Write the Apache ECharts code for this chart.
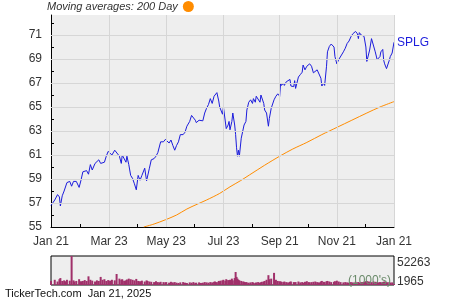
<!DOCTYPE html>
<html><head><meta charset="utf-8">
<script src="https://cdn.jsdelivr.net/npm/echarts@6/dist/echarts.min.js"></script>
<style>html,body{margin:0;padding:0;background:#fff}#c{width:450px;height:300px}</style>
</head><body><div id="c"></div>
<script>
// days since Jan 21, 2024
const priceDays = [0,4,7,9,10,12,14,15,17,20,22,24,25,27,30,32,34,36,38,40,42,44,47,49,51,53,55,57,59,61,63,65,68,70,73,75,76,78,80,81,83,85,87,89,91,93,95,97,100,102,103,105,107,110,112,114,116,117,120,122,123,126,128,130,132,134,136,138,141,143,145,148,150,152,154,155,158,160,162,164,166,168,170,172,174,175,177,179,180,181,183,184,186,187,189,190,191,193,194,196,197,198,199,200,201,203,205,206,208,209,211,213,215,216,218,219,221,223,224,225,227,228,230,232,233,235,238,240,242,244,245,246,248,249,251,253,255,256,259,260,261,264,266,268,269,271,273,275,276,278,280,282,284,286,288,289,291,292,294,295,297,299,302,303,305,307,309,312,314,316,318,320,322,324,325,327,328,329,331,332,334,336,337,339,340,342,344,346,348,349,351,352,354,355,356,358,359,361,362,364,366];
const prices = [56.8,57.25,57.7,57.5,56.75,57.6,58.0,57.9,58.7,58.8,58.4,58.8,58.9,58.8,58.3,58.9,59.6,59.5,59.7,59.4,60.2,59.75,60.3,60.2,60.6,60.3,60.2,60.4,60.9,61.3,61.2,61.0,61.4,61.3,60.9,60.3,61.0,60.9,60.4,60.9,60.2,59.3,59.05,58.6,58.1,59.3,58.9,59.3,59.9,58.85,58.7,59.9,60.6,60.7,60.9,61.2,61.3,62.1,62.1,62.3,62.4,62.0,62.25,61.8,61.4,61.8,62.1,62.7,62.7,62.9,63.4,63.8,64.3,64.2,63.9,63.7,63.9,64.05,63.85,64.5,64.9,65.2,65.7,65.3,65.9,66.0,66.2,65.5,65.0,64.9,64.4,65.0,64.9,63.2,63.5,63.8,63.1,63.8,64.5,63.5,62.7,61.6,60.9,61.4,60.9,62.4,62.5,63.5,63.8,64.75,65.4,65.6,65.3,65.7,65.4,65.9,65.8,65.4,66.0,66.0,65.3,64.75,64.5,63.4,64.05,64.9,65.6,65.9,66.1,65.9,67.0,66.8,67.0,66.8,67.1,67.0,67.3,66.75,66.7,67.2,66.55,67.5,67.7,67.9,68.5,68.1,68.4,68.5,68.6,68.4,67.85,67.9,68.1,68.2,67.4,66.75,67.0,66.8,68.4,69.6,70.05,70.25,70.0,69.2,68.6,68.95,69.05,69.6,69.9,70.3,70.5,70.85,71.1,71.0,71.3,71.1,70.7,71.2,71.0,71.1,70.9,70.0,68.8,68.8,69.75,70.7,70.7,69.6,68.95,68.8,69.2,69.6,69.8,68.9,68.6,68.2,68.1,68.9,69.2,69.5,70.4];
const volumes = [9000,11000,8000,12000,14000,9000,10000,8500,11000,9500,
52263,10000,8000,9000,12000,8500,9000,10500,9000,17000,
11000,9500,8000,10000,9000,16000,11000,12000,9000,10500,
9500,11000,10000,21000,13000,11000,12000,9500,10000,11500,
13000,12000,11000,10000,12500,9000,8500,9500,8000,10000,
9000,8000,7500,7000,8500,7000,6500,7500,7000,6500,
7000,6000,7500,6500,7000,6000,5500,6500,7000,6000,
5500,6500,6000,7000,5500,6000,6500,5500,6000,7000,
6500,6000,7000,6500,7500,8000,7000,9000,8000,9500,
10000,11000,9000,12000,10500,9000,11000,13000,10000,14000,
24500,16000,13000,11000,10000,9000,8000,7500,7000,6500,
6000,6500,7000,6000,5500,6500,7000,6000,6500,7500,
8000,9000,11000,19000,12000,13000,23000,11000,9000,8500,
8000,7500,7000,8000,7000,6500,7500,8000,7000,6500,
7000,8000,6500,7000,6000,7500,8500,7000,6500,7000,
7500,8000,7000,6500,8000,9000,7500,7000,8500,9000,
8000,7000,7500,8500,9500,8000,7000,6500,7000,6500,
6000,7000,6500,6000,7500,6500,7000,6000,6500,7000,
7500,8500,9000,8000,7500,7000,8000,7500,7000,6500,
7000,6500,7000,7500,8000,7000,6500,7000,6000,6500,3500];
const maDays = [99,110,122,134,145,156,166,180,191,202,212,228,244,258,273,289,305,321,337,351,366];
const maValues = [55.0,55.25,55.6,56.0,56.5,56.9,57.25,57.8,58.35,58.85,59.35,60.15,60.9,61.5,62.05,62.7,63.3,63.9,64.5,65.0,65.45];
const xTickDays = [0,31,62,92,123,153,184,215,244,274,305,335,366];
const xLabelDays = [0,62,123,184,244,305,366];
const xLabels = ['Jan 21','Mar 23','May 23','Jul 23','Sep 21','Nov 21','Jan 21'];
const yTicks = [55,56,57,58,59,60,61,62,63,64,65,66,67,68,69,70,71,72];
const yLabels = [55,57,59,61,63,65,67,69,71];
const volTickLabels = ['52263','1965'];
const volMin = 1965, volMax = 52263;

const zip = (a,b) => a.map((v,i)=>[v,b[i]]);
const txt = '#333';
const font = 'Liberation Sans, Arial, sans-serif';

const chart = echarts.init(document.getElementById('c'), null, {renderer:'canvas'});
chart.setOption({
  animation: false,
  textStyle: {fontFamily: font},
  legend: {
    data: ['Moving averages: 200 Day'], left: 47, top: 1, icon: 'circle', align: 'right',
    itemWidth: 11, itemHeight: 11, padding: 0,
    textStyle: {fontStyle: 'italic', fontSize: 11, color: txt, fontFamily: font}
  },
  grid: [
    {left: 51, top: 15, width: 343, height: 212, show: true, backgroundColor: '#eeeeee', borderWidth: 0},
    {left: 51, top: 256, width: 343, height: 29, show: true, backgroundColor: '#eeeeee', borderColor: '#000', borderWidth: 1}
  ],
  xAxis: [
    {type: 'value', gridIndex: 0, min: 0, max: 366,
     axisLine: {show: true, lineStyle: {color: '#000', width: 1}},
     axisTick: {show: true, inside: true, length: 3, customValues: xTickDays, lineStyle: {color: '#000'}},
     axisLabel: {customValues: xLabelDays, fontSize: 12, color: txt, margin: 9,
       formatter: v => { const i = xLabelDays.indexOf(Math.round(v)); return i >= 0 ? xLabels[i] : ''; }},
     splitLine: {show: false}},
    {type: 'value', gridIndex: 1, min: 0, max: 366, show: false, splitLine: {show: false}}
  ],
  yAxis: [
    {type: 'value', gridIndex: 0, min: 55, max: 72.67,
     axisLine: {show: true, lineStyle: {color: '#000', width: 1}},
     axisTick: {show: true, inside: true, length: 3, customValues: yTicks, lineStyle: {color: '#000'}},
     axisLabel: {customValues: yLabels, fontSize: 12, color: txt, margin: 9},
     splitLine: {show: false}},
    {type: 'value', gridIndex: 1, min: volMin, max: volMax, show: false, splitLine: {show: false}}
  ],
  series: [
    {type: 'line', name: 'grid', xAxisIndex: 0, yAxisIndex: 0, data: [], z: 1, silent: true,
     markLine: {silent: true, symbol: ['none','none'], label: {show: false}, animation: false,
       lineStyle: {color: '#d6d6d6', type: 'solid', width: 1},
       data: xLabelDays.slice(1).map(d => ({xAxis: d})).concat(yLabels.slice(1).map(v => ({yAxis: v})))}},
    {type: 'line', name: 'Moving averages: 200 Day', xAxisIndex: 0, yAxisIndex: 0, data: zip(maDays, maValues),
     showSymbol: false, smooth: 0.3, z: 2, color: '#ff8c00', lineStyle: {color: '#ff8c00', width: 1}},
    {type: 'line', name: 'SPLG', xAxisIndex: 0, yAxisIndex: 0, data: zip(priceDays, prices),
     showSymbol: false, z: 3, color: '#1c1cdc', lineStyle: {color: '#1c1cdc', width: 1},
     endLabel: {show: true, formatter: 'SPLG', color: '#1c1cdc', fontSize: 12, distance: 3, fontFamily: font}},
    {type: 'bar', name: 'vol', xAxisIndex: 1, yAxisIndex: 1, data: zip(priceDays, volumes),
     barWidth: 2, itemStyle: {color: '#a0306a'}}
  ],
  graphic: [
    {type: 'text', left: 397, top: 257, style: {text: volTickLabels[0], fontSize: 12, fill: txt, fontFamily: font}},
    {type: 'text', left: 397, top: 276, style: {text: volTickLabels[1], fontSize: 12, fill: txt, fontFamily: font}},
    {type: 'text', left: 348, top: 275, z: 10, style: {text: "(1000's)", fontSize: 12, fill: '#6a8a6a', fontFamily: font}},
    {type: 'text', left: 5, top: 288, style: {text: 'TickerTech.com  Jan 21, 2025', fontSize: 11, fill: '#111', fontFamily: font}}
  ]
});
</script></body></html>
